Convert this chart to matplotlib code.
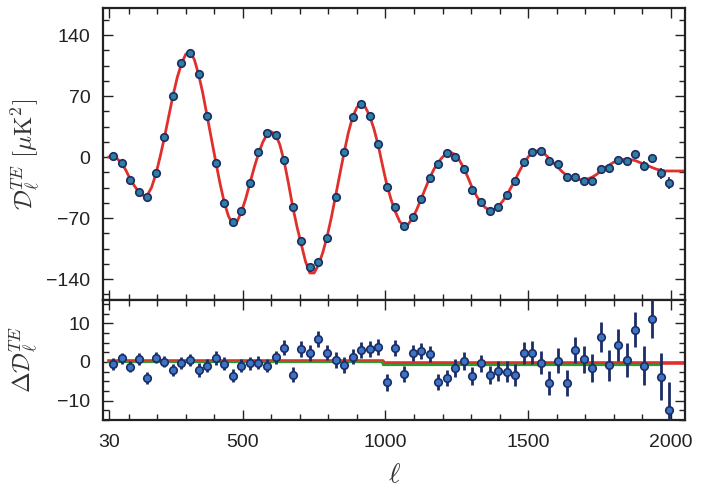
import numpy as np
import matplotlib
matplotlib.use("Agg")
import matplotlib.pyplot as plt
from matplotlib.ticker import MultipleLocator, FixedLocator

plt.rcParams["font.family"] = ["Liberation Sans", "DejaVu Sans"]
plt.rcParams["mathtext.fontset"] = "cm"

# Binned multipoles (bin width 30, starting at ell = 30)
ell_bins = list(range(45, 2000, 30))

# TE band powers [muK^2]
te_data = [
    1.5, -6.5, -26.4, -40.5, -45.6, -18.7, 22.6, 70.4, 108.3, 119.0,
    94.9, 47.4, -6.5, -53.2, -74.3, -62.0, -29.5, 5.4, 27.2, 25.3,
    -3.4, -57.8, -96.4, -125.9, -120.2, -92.7, -45.6, 6.1, 46.3, 60.8,
    47.4, 14.9, -34.1, -57.0, -78.9, -69.3, -48.6, -24.5, -8.0, 4.2,
    0.3, -13.8, -37.9, -51.3, -61.6, -57.0, -43.6, -27.2, -5.4, 6.1,
    6.9, -4.2, -8.0, -23.3, -22.6, -27.6, -27.6, -13.8, -12.3, -3.4,
    -4.2, 3.4, -10.0, -1.5, -18.7, -29.5,
]

# Residuals with respect to the best-fit model [muK^2]
te_resid = [
    -0.5, 0.9, -1.2, 0.7, -4.2, 1.1, 0.1, -2.1, -0.2, 0.5,
    -2.1, -1.0, 1.0, -0.5, -3.6, -1.0, -0.3, -0.2, -1.0, 1.2,
    3.7, -3.3, 3.3, 2.3, 5.9, 2.4, 0.5, -0.8, 1.4, 3.1,
    3.3, 3.8, -5.3, 3.6, -3.1, 2.4, 2.9, 2.1, -5.1, -4.2,
    -1.6, 0.3, -3.6, -0.4, -3.4, -2.3, -2.5, -3.4, 2.3, 2.4,
    -0.2, -5.4, 0.3, -5.5, 3.1, 0.7, -1.6, 6.4, -0.8, 4.4,
    0.5, 8.3, -1.0, 11.2, -3.8, -12.3,
]

# 1-sigma uncertainties per bin [muK^2]
te_err = [
    1.5, 1.5, 1.5, 1.5, 1.5, 1.5, 1.5, 1.5, 1.5, 1.5,
    1.7, 1.7, 1.7, 1.7, 1.7, 1.7, 1.7, 1.7, 1.7, 1.7,
    2.0, 2.0, 2.0, 2.0, 2.0, 2.0, 2.0, 2.0, 2.0, 2.0,
    2.1, 2.1, 2.1, 2.1, 2.1, 2.1, 2.1, 2.1, 2.1, 2.1,
    2.3, 2.3, 2.3, 2.3, 2.3, 2.6, 2.7, 2.8, 2.9, 3.0,
    3.0, 3.1, 3.2, 3.3, 3.3, 3.5, 3.6, 3.8, 4.0, 4.2,
    4.5, 4.5, 5.0, 5.0, 6.0, 7.0,
]

# Best-fit LCDM TE spectrum sampled every 15 multipoles from ell = 30
ell_model = list(range(30, 2056, 15))
te_model = [
    0, 0, -2, -7, -15, -25, -33, -40, -44, -44,
    -35, -20, 0, 22, 46, 70, 91, 107, 118, 121,
    112, 95, 73, 47, 21, -5, -30, -52, -68, -77,
    -74, -63, -48, -30, -12, 4, 17, 26, 29, 26,
    14, -5, -30, -57, -80, -100, -120, -133, -133, -124,
    -110, -92, -70, -45, -20, 5, 28, 46, 57, 61,
    57, 47, 32, 13, -10, -32, -49, -63, -74, -79,
    -77, -70, -60, -48, -36, -24, -14, -6, 0, 4,
    5, 3, -4, -13, -24, -36, -45, -53, -58, -61,
    -60, -57, -51, -44, -35, -26, -16, -7, 0, 5,
    7, 6, 3, -2, -7, -12, -17, -21, -24, -25,
    -26, -26, -25, -23, -20, -16, -12, -9, -6, -4,
    -3, -2, -3, -4, -6, -8, -10, -12, -14, -15,
    -16, -16, -16, -16, -16, -16,
]

# Reference lines in the residual panel (piecewise, split at ell = 990)
ref_ell = [30, 990, 990, 2050]
ref_red = [0.2, 0.2, -0.3, -0.3]
green_ell = [30, 990, 990, 1965]
ref_green = [0.0, 0.0, -0.9, -0.9]

x_ticks = [30, 500, 1000, 1500, 2000]

fig = plt.figure(figsize=(7.01, 4.92), dpi=100)
left, right = 103 / 701, 685 / 701
ax1 = fig.add_axes([left, 1 - 300 / 492, right - left, 292 / 492])
ax2 = fig.add_axes([left, 1 - 420 / 492, right - left, 120 / 492], sharex=ax1)

red = "#e0302c"
fill_top = "#2f7f9f"
fill_bot = "#3a74c2"
edge = "#1c2c66"

ax1.plot(ell_model, te_model, color=red, lw=2.0, zorder=2)
ax1.errorbar(ell_bins, te_data, yerr=te_err, fmt="o", ms=5.4,
             mfc=fill_top, mec=edge, mew=1.2, ecolor=edge, elinewidth=1.2,
             capsize=0, zorder=3)

ax2.plot(ref_ell, ref_red, color=red, lw=2.6, zorder=2)
ax2.plot(green_ell, ref_green, color="#2e9a2e", lw=1.6, zorder=2)
ax2.errorbar(ell_bins, te_resid, yerr=te_err, fmt="o", ms=5.4,
             mfc=fill_bot, mec=edge, mew=1.2, ecolor=edge, elinewidth=2.0,
             capsize=0, zorder=3)

ax1.set_xlim(10, 2050)
ax1.set_ylim(-164, 171)
ax2.set_ylim(-15, 16)

ax1.yaxis.set_major_locator(FixedLocator([-140, -70, 0, 70, 140]))
ax1.yaxis.set_minor_locator(MultipleLocator(17.5))
ax2.yaxis.set_major_locator(FixedLocator([-10, 0, 10]))
ax2.yaxis.set_minor_locator(MultipleLocator(2.5))
ax2.xaxis.set_major_locator(FixedLocator(x_ticks))
ax2.xaxis.set_minor_locator(MultipleLocator(100))

for ax in (ax1, ax2):
    ax.tick_params(which="both", direction="in", top=True, right=True,
                   labelsize=14, colors="#222222", width=1.0)
    ax.tick_params(which="major", length=7)
    ax.tick_params(which="minor", length=4)
    ax.tick_params(axis="y", which="major", pad=9)
    ax.tick_params(axis="x", which="major", pad=10)
    for sp in ax.spines.values():
        sp.set_linewidth(1.6)
        sp.set_color("#222222")

ax1.tick_params(labelbottom=False)
ax2.set_xticklabels([str(t) for t in x_ticks])

ax1.set_ylabel(r"$\mathcal{D}_\ell^{TE}\ [\mu\mathrm{K}^2]$", fontsize=18,
               color="#333333")
ax2.set_ylabel(r"$\Delta\mathcal{D}_\ell^{TE}$", fontsize=18,
               color="#333333")
ax2.set_xlabel(r"$\ell$", fontsize=20, color="#333333", labelpad=8)
ax1.yaxis.set_label_coords(-0.105, 0.5)
ax2.yaxis.set_label_coords(-0.108, 0.5)

fig.savefig("out.png", dpi=100)
